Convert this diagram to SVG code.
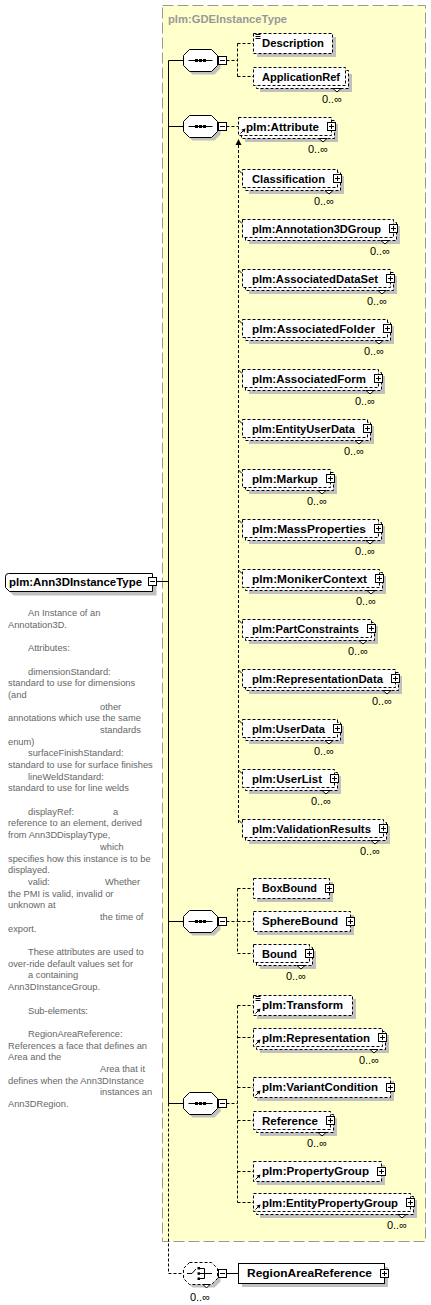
<svg xmlns="http://www.w3.org/2000/svg" width="431" height="1305" viewBox="0 0 431 1305">
<style>
.bx{fill:#fff;stroke:#000;stroke-width:1}
.op{stroke-dasharray:3 2}
.sh{fill:#c0c0c0;stroke:none}
.n{font-family:"Liberation Sans",Arial,sans-serif;font-weight:bold;font-size:11.3px;fill:#000}
.o{font-family:"Liberation Sans",Arial,sans-serif;font-size:11px;fill:#000;text-anchor:end}
.d{font-family:"Liberation Sans",Arial,sans-serif;font-size:9.3px;fill:#666}
.c{fill:none;stroke:#000;stroke-width:1}
.dc{fill:none;stroke:#000;stroke-width:1;stroke-dasharray:3 2}
.k{stroke:#000;stroke-width:1;fill:none}
</style>
<defs>
<g id="plus"><rect x="-4" y="-4" width="8" height="8" class="bx"/><path d="M-2.5 0H2.5M0 -2.5V2.5" class="k"/></g>
<g id="minus"><rect x="-4" y="-4" width="8" height="8" class="bx"/><path d="M-2.5 0H2.5" class="k"/></g>
<g id="ref"><path d="M2 -2L5.5 -5.5" class="k"/><polygon points="7,-7 3,-6 6,-3" fill="#000"/></g>
<g id="simple"><path d="M2 1H7M2 3H7M2 5H7" class="k"/></g>
<g id="seq">
<polygon class="sh" points="-8,-8 14,-8 20,-2 20,8 14,14 -8,14 -14,8 -14,-2"/>
<polygon class="bx" points="-11,-11 11,-11 17,-5 17,5 11,11 -11,11 -17,5 -17,-5"/>
<path d="M-12 0H12" class="k"/>
<rect x="-5.5" y="-1.5" width="3" height="3" fill="#000"/>
<rect x="-1.5" y="-1.5" width="3" height="3" fill="#000"/>
<rect x="2.5" y="-1.5" width="3" height="3" fill="#000"/>
<use href="#minus" x="22" y="0"/>
</g>
</defs>
<rect x="0" y="0" width="431" height="1305" fill="#fff"/>

<g id="GDEInstanceType">
<rect x="162.5" y="5.5" width="263" height="1236" fill="#ffffcc" stroke="#999" stroke-dasharray="11 4"/>
<text class="n" x="168" y="23" fill="#999" style="fill:#999" textLength="119" lengthAdjust="spacingAndGlyphs">plm:GDEInstanceType</text>
</g>

<g id="connectors">
<path class="c" d="M168.5 60.5V1103.5M168.5 60.5H183.5M168.5 126.5H183.5M168.5 921.5H183.5M168.5 1103.5H183.5M156.5 581.5H168.5M226.5 1273.5H238.5"/>
<path class="dc" d="M168.5 1103.5V1273.5H183.5M226.5 60.5H237.5M237.5 43.5V76.5M237.5 43.5H253.5M237.5 76.5H253.5M226.5 126.5H238.5M238.5 145V823M226.5 921.5H237.5M237.5 888.5V953.5M237.5 888.5H253.5M237.5 921.5H253.5M237.5 953.5H253.5M226.5 1103.5H237.5M237.5 1005.5V1202.5M237.5 1005.5H253.5M237.5 1037.5H253.5M237.5 1087.5H253.5M237.5 1120.5H253.5M237.5 1171.5H253.5M237.5 1202.5H253.5"/>
<polygon points="238.5,139 235.5,145 241.5,145" fill="#000"/>
<path class="c" d="M238.5 170L242 173.5M238.5 220L242 223.5M238.5 270L242 273.5M238.5 320L242 323.5M238.5 370L242 373.5M238.5 420L242 423.5M238.5 470L242 473.5M238.5 520L242 523.5M238.5 570L242 573.5M238.5 620L242 623.5M238.5 670L242 673.5M238.5 720L242 723.5M238.5 770L242 773.5M238.5 820L242 823.5"/>
</g>

<g id="Ann3DInstanceType">
<path class="sh" d="M9.5 580.5Q9.5 577.5 12.5 577.5H156.5V595.5H13.5L9.5 591.5Z"/>
<path class="bx" d="M5.5 576.5Q5.5 573.5 8.5 573.5H152.5V591.5H9.5L5.5 587.5Z"/>
<text class="n" x="9" y="586" textLength="133" lengthAdjust="spacingAndGlyphs">plm:Ann3DInstanceType</text>
<use href="#minus" x="152.5" y="581.5"/>
</g>

<g id="annotation">
<text class="d" x="28" y="616">An Instance of an</text>
<text class="d" x="8" y="627.7">Annotation3D.</text>
<text class="d" x="28" y="651.1">Attributes:</text>
<text class="d" x="28" y="674.5">dimensionStandard:</text>
<text class="d" x="8" y="686.1">standard to use for dimensions</text>
<text class="d" x="8" y="697.8">(and</text>
<text class="d" x="100" y="709.5">other</text>
<text class="d" x="8" y="721.2">annotations which use the same</text>
<text class="d" x="100" y="732.9">standards</text>
<text class="d" x="8" y="744.6">enum)</text>
<text class="d" x="28" y="756.3">surfaceFinishStandard:</text>
<text class="d" x="8" y="768">standard to use for surface finishes</text>
<text class="d" x="28" y="779.7">lineWeldStandard:</text>
<text class="d" x="8" y="791.4">standard to use for line welds</text>
<text class="d" x="28" y="814.7">displayRef:</text>
<text class="d" x="113" y="814.7">a</text>
<text class="d" x="8" y="826.4">reference to an element, derived</text>
<text class="d" x="8" y="838.1">from Ann3DDisplayType,</text>
<text class="d" x="100" y="849.8">which</text>
<text class="d" x="8" y="861.5">specifies how this instance is to be</text>
<text class="d" x="8" y="873.2">displayed.</text>
<text class="d" x="28" y="884.9">valid:</text>
<text class="d" x="105" y="884.9">Whether</text>
<text class="d" x="8" y="896.6">the PMI is valid, invalid or</text>
<text class="d" x="8" y="908.3">unknown at</text>
<text class="d" x="100" y="919.9">the time of</text>
<text class="d" x="8" y="931.6">export.</text>
<text class="d" x="28" y="955">These attributes are used to</text>
<text class="d" x="8" y="966.7">over-ride default values set for</text>
<text class="d" x="28" y="978.4">a containing</text>
<text class="d" x="8" y="990.1">Ann3DInstanceGroup.</text>
<text class="d" x="28" y="1013.5">Sub-elements:</text>
<text class="d" x="28" y="1036.8">RegionAreaReference:</text>
<text class="d" x="8" y="1048.5">References a face that defines an</text>
<text class="d" x="8" y="1060.2">Area and the</text>
<text class="d" x="100" y="1071.9">Area that it</text>
<text class="d" x="8" y="1083.6">defines when the Ann3DInstance</text>
<text class="d" x="100" y="1095.3">instances an</text>
<text class="d" x="8" y="1107">Ann3DRegion.</text>
</g>

<g id="sequence1"><use href="#seq" x="200.5" y="60.5"/></g>
<g id="sequence2"><use href="#seq" x="200.5" y="126.5"/></g>
<g id="sequence3"><use href="#seq" x="200.5" y="921.5"/></g>
<g id="sequence4"><use href="#seq" x="200.5" y="1103.5"/></g>

<g id="Description">
<rect class="sh" x="257" y="37" width="79" height="20"/>
<rect class="bx op" x="253.5" y="33.5" width="79" height="20"/>
<use href="#simple" x="253.5" y="33.5"/>
<text class="n" x="262" y="47" textLength="62" lengthAdjust="spacingAndGlyphs">Description</text>
</g>
<g id="ApplicationRef">
<rect class="sh" x="260" y="74" width="92" height="18"/>
<rect class="bx op" x="256.5" y="70.5" width="92" height="18"/>
<rect class="bx op" x="253.5" y="67.5" width="92" height="18"/>
<polygon class="bx" points="333,88.5 337,92 341,88.5"/>
<text class="n" x="262" y="81" textLength="78" lengthAdjust="spacingAndGlyphs">ApplicationRef</text>
<text class="o" x="342" y="103">0..∞</text>
</g>

<g id="Attribute">
<rect class="sh" x="245" y="124" width="93" height="18"/>
<rect class="bx op" x="241.5" y="120.5" width="93" height="18"/>
<rect class="bx op" x="238.5" y="117.5" width="93" height="18"/>
<polygon class="bx" points="319,138.5 323,142 327,138.5"/>
<text class="n" x="246" y="131" textLength="73" lengthAdjust="spacingAndGlyphs">plm:Attribute</text>
<use href="#ref" x="238.5" y="135.5"/>
<use href="#plus" x="331.5" y="126.5"/>
<text class="o" x="328" y="153">0..∞</text>
</g>

<g id="Classification">
<rect class="sh" x="249" y="176" width="95" height="18"/>
<rect class="bx op" x="245.5" y="172.5" width="95" height="18"/>
<rect class="bx op" x="242.5" y="169.5" width="95" height="18"/>
<polygon class="bx" points="325,190.5 329,194 333,190.5"/>
<text class="n" x="252" y="183" textLength="73" lengthAdjust="spacingAndGlyphs">Classification</text>
<use href="#plus" x="337.5" y="178.5"/>
<text class="o" x="334" y="205">0..∞</text>
</g>
<g id="Annotation3DGroup">
<rect class="sh" x="249" y="226" width="151" height="18"/>
<rect class="bx op" x="245.5" y="222.5" width="151" height="18"/>
<rect class="bx op" x="242.5" y="219.5" width="151" height="18"/>
<polygon class="bx" points="381,240.5 385,244 389,240.5"/>
<text class="n" x="252" y="233" textLength="129" lengthAdjust="spacingAndGlyphs">plm:Annotation3DGroup</text>
<use href="#plus" x="393.5" y="228.5"/>
<text class="o" x="390" y="255">0..∞</text>
</g>
<g id="AssociatedDataSet">
<rect class="sh" x="249" y="276" width="148" height="18"/>
<rect class="bx op" x="245.5" y="272.5" width="148" height="18"/>
<rect class="bx op" x="242.5" y="269.5" width="148" height="18"/>
<polygon class="bx" points="378,290.5 382,294 386,290.5"/>
<text class="n" x="252" y="283" textLength="126" lengthAdjust="spacingAndGlyphs">plm:AssociatedDataSet</text>
<use href="#plus" x="390.5" y="278.5"/>
<text class="o" x="387" y="305">0..∞</text>
</g>
<g id="AssociatedFolder">
<rect class="sh" x="249" y="326" width="145" height="18"/>
<rect class="bx op" x="245.5" y="322.5" width="145" height="18"/>
<rect class="bx op" x="242.5" y="319.5" width="145" height="18"/>
<polygon class="bx" points="375,340.5 379,344 383,340.5"/>
<text class="n" x="252" y="333" textLength="123" lengthAdjust="spacingAndGlyphs">plm:AssociatedFolder</text>
<use href="#plus" x="387.5" y="328.5"/>
<text class="o" x="384" y="355">0..∞</text>
</g>
<g id="AssociatedForm">
<rect class="sh" x="249" y="376" width="136" height="18"/>
<rect class="bx op" x="245.5" y="372.5" width="136" height="18"/>
<rect class="bx op" x="242.5" y="369.5" width="136" height="18"/>
<polygon class="bx" points="366,390.5 370,394 374,390.5"/>
<text class="n" x="252" y="383" textLength="114" lengthAdjust="spacingAndGlyphs">plm:AssociatedForm</text>
<use href="#plus" x="378.5" y="378.5"/>
<text class="o" x="375" y="405">0..∞</text>
</g>
<g id="EntityUserData">
<rect class="sh" x="249" y="426" width="125" height="18"/>
<rect class="bx op" x="245.5" y="422.5" width="125" height="18"/>
<rect class="bx op" x="242.5" y="419.5" width="125" height="18"/>
<polygon class="bx" points="355,440.5 359,444 363,440.5"/>
<text class="n" x="252" y="433" textLength="103" lengthAdjust="spacingAndGlyphs">plm:EntityUserData</text>
<use href="#plus" x="367.5" y="428.5"/>
<text class="o" x="364" y="455">0..∞</text>
</g>
<g id="Markup">
<rect class="sh" x="249" y="476" width="88" height="18"/>
<rect class="bx op" x="245.5" y="472.5" width="88" height="18"/>
<rect class="bx op" x="242.5" y="469.5" width="88" height="18"/>
<polygon class="bx" points="318,490.5 322,494 326,490.5"/>
<text class="n" x="252" y="483" textLength="66" lengthAdjust="spacingAndGlyphs">plm:Markup</text>
<use href="#plus" x="330.5" y="478.5"/>
<text class="o" x="327" y="505">0..∞</text>
</g>
<g id="MassProperties">
<rect class="sh" x="249" y="526" width="136" height="18"/>
<rect class="bx op" x="245.5" y="522.5" width="136" height="18"/>
<rect class="bx op" x="242.5" y="519.5" width="136" height="18"/>
<polygon class="bx" points="366,540.5 370,544 374,540.5"/>
<text class="n" x="252" y="533" textLength="114" lengthAdjust="spacingAndGlyphs">plm:MassProperties</text>
<use href="#plus" x="378.5" y="528.5"/>
<text class="o" x="375" y="555">0..∞</text>
</g>
<g id="MonikerContext">
<rect class="sh" x="249" y="576" width="137" height="18"/>
<rect class="bx op" x="245.5" y="572.5" width="137" height="18"/>
<rect class="bx op" x="242.5" y="569.5" width="137" height="18"/>
<polygon class="bx" points="367,590.5 371,594 375,590.5"/>
<text class="n" x="252" y="583" textLength="115" lengthAdjust="spacingAndGlyphs">plm:MonikerContext</text>
<use href="#plus" x="379.5" y="578.5"/>
<text class="o" x="376" y="605">0..∞</text>
</g>
<g id="PartConstraints">
<rect class="sh" x="249" y="626" width="129" height="18"/>
<rect class="bx op" x="245.5" y="622.5" width="129" height="18"/>
<rect class="bx op" x="242.5" y="619.5" width="129" height="18"/>
<polygon class="bx" points="359,640.5 363,644 367,640.5"/>
<text class="n" x="252" y="633" textLength="107" lengthAdjust="spacingAndGlyphs">plm:PartConstraints</text>
<use href="#plus" x="371.5" y="628.5"/>
<text class="o" x="368" y="655">0..∞</text>
</g>
<g id="RepresentationData">
<rect class="sh" x="249" y="676" width="153" height="18"/>
<rect class="bx op" x="245.5" y="672.5" width="153" height="18"/>
<rect class="bx op" x="242.5" y="669.5" width="153" height="18"/>
<polygon class="bx" points="383,690.5 387,694 391,690.5"/>
<text class="n" x="252" y="683" textLength="131" lengthAdjust="spacingAndGlyphs">plm:RepresentationData</text>
<use href="#plus" x="395.5" y="678.5"/>
<text class="o" x="392" y="705">0..∞</text>
</g>
<g id="UserData">
<rect class="sh" x="249" y="726" width="95" height="18"/>
<rect class="bx op" x="245.5" y="722.5" width="95" height="18"/>
<rect class="bx op" x="242.5" y="719.5" width="95" height="18"/>
<polygon class="bx" points="325,740.5 329,744 333,740.5"/>
<text class="n" x="252" y="733" textLength="73" lengthAdjust="spacingAndGlyphs">plm:UserData</text>
<use href="#plus" x="337.5" y="728.5"/>
<text class="o" x="334" y="755">0..∞</text>
</g>
<g id="UserList">
<rect class="sh" x="249" y="776" width="92" height="18"/>
<rect class="bx op" x="245.5" y="772.5" width="92" height="18"/>
<rect class="bx op" x="242.5" y="769.5" width="92" height="18"/>
<polygon class="bx" points="322,790.5 326,794 330,790.5"/>
<text class="n" x="252" y="783" textLength="70" lengthAdjust="spacingAndGlyphs">plm:UserList</text>
<use href="#plus" x="334.5" y="778.5"/>
<text class="o" x="331" y="805">0..∞</text>
</g>
<g id="ValidationResults">
<rect class="sh" x="249" y="826" width="141" height="18"/>
<rect class="bx op" x="245.5" y="822.5" width="141" height="18"/>
<rect class="bx op" x="242.5" y="819.5" width="141" height="18"/>
<polygon class="bx" points="371,840.5 375,844 379,840.5"/>
<text class="n" x="252" y="833" textLength="119" lengthAdjust="spacingAndGlyphs">plm:ValidationResults</text>
<use href="#plus" x="383.5" y="828.5"/>
<text class="o" x="380" y="855">0..∞</text>
</g>

<g id="BoxBound">
<rect class="sh" x="257" y="882" width="76" height="20"/>
<rect class="bx op" x="253.5" y="878.5" width="76" height="20"/>
<text class="n" x="262" y="892" textLength="55" lengthAdjust="spacingAndGlyphs">BoxBound</text>
<use href="#plus" x="329.5" y="888.5"/>
</g>
<g id="SphereBound">
<rect class="sh" x="257" y="915" width="97" height="20"/>
<rect class="bx op" x="253.5" y="911.5" width="97" height="20"/>
<text class="n" x="262" y="925" textLength="76" lengthAdjust="spacingAndGlyphs">SphereBound</text>
<use href="#plus" x="350.5" y="921.5"/>
</g>
<g id="Bound">
<rect class="sh" x="260" y="951" width="56" height="18"/>
<rect class="bx op" x="256.5" y="947.5" width="56" height="18"/>
<rect class="bx op" x="253.5" y="944.5" width="56" height="18"/>
<polygon class="bx" points="297,965.5 301,969 305,965.5"/>
<text class="n" x="262" y="958" textLength="35" lengthAdjust="spacingAndGlyphs">Bound</text>
<use href="#plus" x="309.5" y="953.5"/>
<text class="o" x="306" y="980">0..∞</text>
</g>

<g id="Transform">
<rect class="sh" x="257" y="999" width="99" height="20"/>
<rect class="bx op" x="253.5" y="995.5" width="99" height="20"/>
<use href="#simple" x="253.5" y="995.5"/>
<use href="#ref" x="253.5" y="1015.5"/>
<text class="n" x="262" y="1009" textLength="81" lengthAdjust="spacingAndGlyphs">plm:Transform</text>
</g>
<g id="Representation">
<rect class="sh" x="260" y="1035" width="129" height="18"/>
<rect class="bx op" x="256.5" y="1031.5" width="129" height="18"/>
<rect class="bx op" x="253.5" y="1028.5" width="129" height="18"/>
<polygon class="bx" points="370,1049.5 374,1053 378,1049.5"/>
<use href="#ref" x="253.5" y="1046.5"/>
<text class="n" x="262" y="1042" textLength="108" lengthAdjust="spacingAndGlyphs">plm:Representation</text>
<use href="#plus" x="382.5" y="1037.5"/>
<text class="o" x="379" y="1064">0..∞</text>
</g>
<g id="VariantCondition">
<rect class="sh" x="257" y="1081" width="137" height="20"/>
<rect class="bx op" x="253.5" y="1077.5" width="137" height="20"/>
<use href="#ref" x="253.5" y="1097.5"/>
<text class="n" x="262" y="1091" textLength="116" lengthAdjust="spacingAndGlyphs">plm:VariantCondition</text>
<use href="#plus" x="390.5" y="1087.5"/>
</g>
<g id="Reference">
<rect class="sh" x="260" y="1118" width="77" height="18"/>
<rect class="bx op" x="256.5" y="1114.5" width="77" height="18"/>
<rect class="bx op" x="253.5" y="1111.5" width="77" height="18"/>
<polygon class="bx" points="318,1132.5 322,1136 326,1132.5"/>
<text class="n" x="262" y="1125" textLength="56" lengthAdjust="spacingAndGlyphs">Reference</text>
<use href="#plus" x="330.5" y="1120.5"/>
<text class="o" x="327" y="1147">0..∞</text>
</g>
<g id="PropertyGroup">
<rect class="sh" x="257" y="1165" width="128" height="20"/>
<rect class="bx op" x="253.5" y="1161.5" width="128" height="20"/>
<use href="#ref" x="253.5" y="1181.5"/>
<text class="n" x="262" y="1175" textLength="107" lengthAdjust="spacingAndGlyphs">plm:PropertyGroup</text>
<use href="#plus" x="381.5" y="1171.5"/>
</g>
<g id="EntityPropertyGroup">
<rect class="sh" x="260" y="1200" width="157" height="18"/>
<rect class="bx op" x="256.5" y="1196.5" width="157" height="18"/>
<rect class="bx op" x="253.5" y="1193.5" width="157" height="18"/>
<polygon class="bx" points="398,1214.5 402,1218 406,1214.5"/>
<use href="#ref" x="253.5" y="1211.5"/>
<text class="n" x="262" y="1207" textLength="136" lengthAdjust="spacingAndGlyphs">plm:EntityPropertyGroup</text>
<use href="#plus" x="410.5" y="1202.5"/>
<text class="o" x="407" y="1229">0..∞</text>
</g>

<g id="choice">
<polygon class="sh" points="192.5,1265.5 214.5,1265.5 220.5,1271.5 220.5,1281.5 214.5,1287.5 192.5,1287.5 186.5,1281.5 186.5,1271.5"/>
<polygon class="bx op" points="189.5,1262.5 211.5,1262.5 217.5,1268.5 217.5,1278.5 211.5,1284.5 189.5,1284.5 183.5,1278.5 183.5,1268.5"/>
<polygon class="bx" points="203,1284.5 206.5,1288 210,1284.5"/>
<path class="k" d="M187 1273.5H192L196 1269M200 1268.5H204.5V1278.5H200M200 1273.5H212"/>
<rect x="197.5" y="1267" width="2.5" height="2.5" fill="#000"/>
<rect x="197.5" y="1272.3" width="2.5" height="2.5" fill="#000"/>
<rect x="197.5" y="1277.5" width="2.5" height="2.5" fill="#000"/>
<use href="#minus" x="222.5" y="1273.5"/>
<text class="o" x="210" y="1301">0..∞</text>
</g>
<g id="RegionAreaReference">
<rect class="sh" x="242" y="1267" width="146" height="20"/>
<rect class="bx" x="238.5" y="1263.5" width="146" height="20"/>
<text class="n" x="247" y="1277" textLength="125" lengthAdjust="spacingAndGlyphs">RegionAreaReference</text>
<use href="#plus" x="384.5" y="1273.5"/>
</g>
</svg>
